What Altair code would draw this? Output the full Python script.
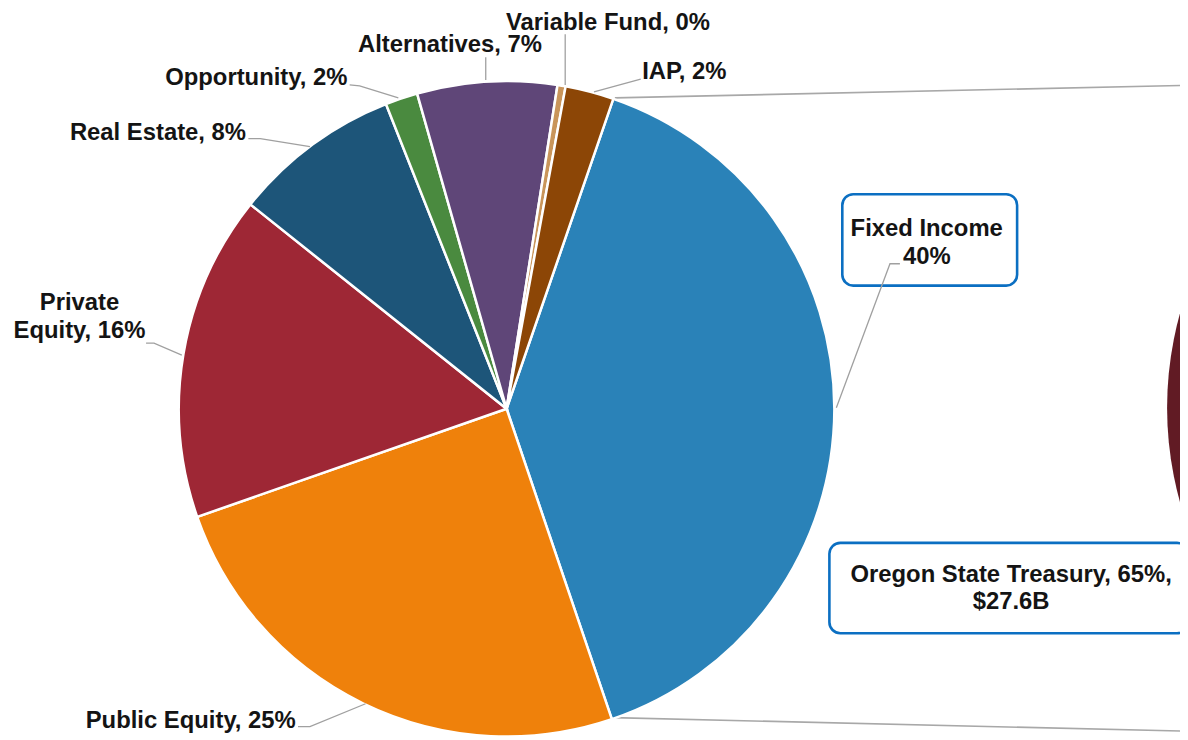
import math
import altair as alt
import pandas as pd

# ---- data ----
categories = ["Fixed Income", "Public Equity", "Private Equity", "Real Estate",
              "Opportunity", "Alternatives", "Variable Fund", "IAP"]
values = [39.6, 24.9, 16.1, 8.3, 1.6, 6.9, 0.4, 2.4]
colors = ["#2a82b8", "#ef810b", "#9e2735", "#1d5579",
          "#4a8a3f", "#5f4678", "#c9955a", "#8c4606"]
label_lines = [["Fixed Income", "40%"], ["Public Equity, 25%"], ["Private", "Equity, 16%"],
               ["Real Estate, 8%"], ["Opportunity, 2%"], ["Alternatives, 7%"],
               ["Variable Fund, 0%"], ["IAP, 2%"]]
treasury_lines = ["Oregon State Treasury, 65%,", "$27.6B"]
treasury_color = "#611b24"

# ---- layout (page pixel frame) ----
W, H = 1180, 732
xs = alt.Scale(domain=[8, 8 + W], range=[0, W])
ys = alt.Scale(domain=[8, 8 + H], range=[0, H])
CENTER = (510, 409)
RADIUS = 330
START = math.radians(19.0)
SECOND_CENTER = (1529, 408)
SECOND_RADIUS = 354

label_pos = {  # text anchor (center x, first baseline y)
    "Fixed Income": (933, 235), "Public Equity": (192, 730), "Private Equity": (80, 310),
    "Real Estate": (159, 138), "Opportunity": (258, 83), "Alternatives": (453, 50),
    "Variable Fund": (612, 28), "IAP": (689, 77),
}
leader_pts = {
    "Variable Fund": [(569, 32), (569, 83)],
    "Alternatives": [(489, 55), (489, 78)],
    "IAP": [(645, 77), (598, 90)],
    "Opportunity": [(352, 83), (362, 84), (401, 96)],
    "Real Estate": [(250, 137), (262, 137), (312, 145)],
    "Private Equity": [(147, 343), (155, 343), (183, 355)],
    "Public Equity": [(300, 729), (312, 729), (368, 706)],
    "Fixed Income": [(906, 263), (896, 263), (842, 408)],
}
connectors = [((619, 96), (1190, 83.5)), ((617, 720), (1190, 733.5))]
boxes = [((848, 193), (1024, 285)), ((835, 544), (1196, 635))]
treasury_pos = (1018, 583)

FONT = "Liberation Sans, Arial, sans-serif"

pie_df = pd.DataFrame({"category": categories, "value": values, "k": list(range(len(categories)))})

second = alt.Chart(pd.DataFrame({"name": ["Oregon State Treasury"]})).mark_arc(
    radius=SECOND_RADIUS, theta=0, theta2=2 * math.pi, color=treasury_color
).encode(
    x=alt.XDatum(SECOND_CENTER[0], scale=xs, axis=None),
    y=alt.YDatum(SECOND_CENTER[1], scale=ys, axis=None),
)

conn_df = pd.DataFrame({"x": [c[0][0] for c in connectors], "y": [c[0][1] for c in connectors],
                        "x2": [c[1][0] for c in connectors], "y2": [c[1][1] for c in connectors]})
conn = alt.Chart(conn_df).mark_rule(color="#a8a8a8", strokeWidth=1.6).encode(
    x=alt.X("x:Q", scale=xs, axis=None), y=alt.Y("y:Q", scale=ys, axis=None),
    x2="x2:Q", y2="y2:Q",
)

pie = alt.Chart(pie_df).mark_arc(radius=RADIUS, stroke="white", strokeWidth=2.5).encode(
    theta=alt.Theta("value:Q", stack=True,
                    scale=alt.Scale(range=[START, START + 2 * math.pi])),
    color=alt.Color("category:N", scale=alt.Scale(domain=categories, range=colors), legend=None),
    order=alt.Order("k:Q"),
    x=alt.XDatum(CENTER[0], scale=xs, axis=None),
    y=alt.YDatum(CENTER[1], scale=ys, axis=None),
)

box_df = pd.DataFrame({"x": [b[0][0] for b in boxes], "y": [b[0][1] for b in boxes],
                       "x2": [b[1][0] for b in boxes], "y2": [b[1][1] for b in boxes]})
box = alt.Chart(box_df).mark_rect(fill="white", stroke="#0b6fc2", strokeWidth=2.6,
                                  cornerRadius=11).encode(
    x=alt.X("x:Q", scale=xs, axis=None), y=alt.Y("y:Q", scale=ys, axis=None),
    x2="x2:Q", y2="y2:Q",
)

lead_rows = []
for name, pts in leader_pts.items():
    for i, (px, py) in enumerate(pts):
        lead_rows.append({"id": name, "i": i, "x": px, "y": py})
leaders = alt.Chart(pd.DataFrame(lead_rows)).mark_line(color="#a0a0a0", strokeWidth=1.3).encode(
    x=alt.X("x:Q", scale=xs, axis=None), y=alt.Y("y:Q", scale=ys, axis=None),
    detail="id:N", order="i:Q",
)

text_rows = []
for cat, lines in zip(categories, label_lines):
    px, py = label_pos[cat]
    text_rows.append({"t": lines, "x": px, "y": py})
text_rows.append({"t": treasury_lines, "x": treasury_pos[0], "y": treasury_pos[1]})
texts = alt.Chart(pd.DataFrame(text_rows)).mark_text(
    font=FONT, fontSize=24, fontWeight="bold", lineHeight=28,
    align="center", baseline="alphabetic", color="#141414"
).encode(
    x=alt.X("x:Q", scale=xs, axis=None), y=alt.Y("y:Q", scale=ys, axis=None),
    text="t",
)

chart = alt.layer(second, conn, pie, box, leaders, texts).properties(
    width=W, height=H, padding=0,
    autosize=alt.AutoSizeParams(type="none"),
    background="white",
).configure_view(stroke=None)

chart.save("out.html", embed_options={"renderer": "svg", "actions": False})
